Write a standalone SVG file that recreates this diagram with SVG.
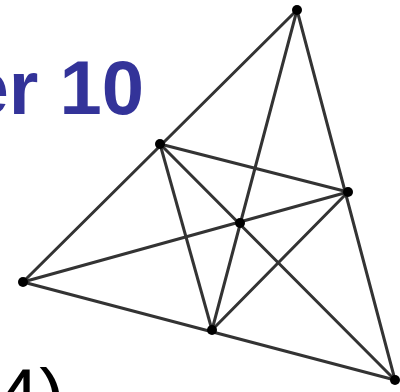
<svg xmlns="http://www.w3.org/2000/svg" width="400" height="392" viewBox="0 0 400 392">
<style>
.edge{stroke:#333;stroke-width:3;stroke-linecap:round;fill:none}
.dot{fill:#000}
.title{font-family:"Liberation Sans",Arial,sans-serif;font-weight:bold;font-size:76px;fill:#333399}
.sub{font-family:"Liberation Sans",Arial,sans-serif;font-size:76px;fill:#000}
</style>
<rect width="400" height="392" fill="#fff"/>
<text class="title" x="144" y="114" text-anchor="end">er 10</text>
<text class="sub" x="-3" y="422">4)</text>
<g id="connectors">
<line class="edge" x1="297" y1="10" x2="23" y2="282"/>
<line class="edge" x1="297" y1="10" x2="395" y2="380"/>
<line class="edge" x1="23" y1="282" x2="395" y2="380"/>
<line class="edge" x1="297" y1="10" x2="212" y2="330"/>
<line class="edge" x1="23" y1="282" x2="348" y2="192"/>
<line class="edge" x1="395" y1="380" x2="160" y2="144"/>
<line class="edge" x1="160" y1="144" x2="348" y2="192"/>
<line class="edge" x1="160" y1="144" x2="212" y2="330"/>
<line class="edge" x1="348" y1="192" x2="212" y2="330"/>
</g>
<g id="A"><circle class="dot" cx="297" cy="10" r="5"/></g>
<g id="B"><circle class="dot" cx="23" cy="282" r="5"/></g>
<g id="C"><circle class="dot" cx="395" cy="380" r="5"/></g>
<g id="P1"><circle class="dot" cx="160" cy="144" r="5"/></g>
<g id="P2"><circle class="dot" cx="348" cy="192" r="5"/></g>
<g id="P3"><circle class="dot" cx="212" cy="330" r="5"/></g>
<g id="O"><circle class="dot" cx="240" cy="223" r="5"/></g>
</svg>
